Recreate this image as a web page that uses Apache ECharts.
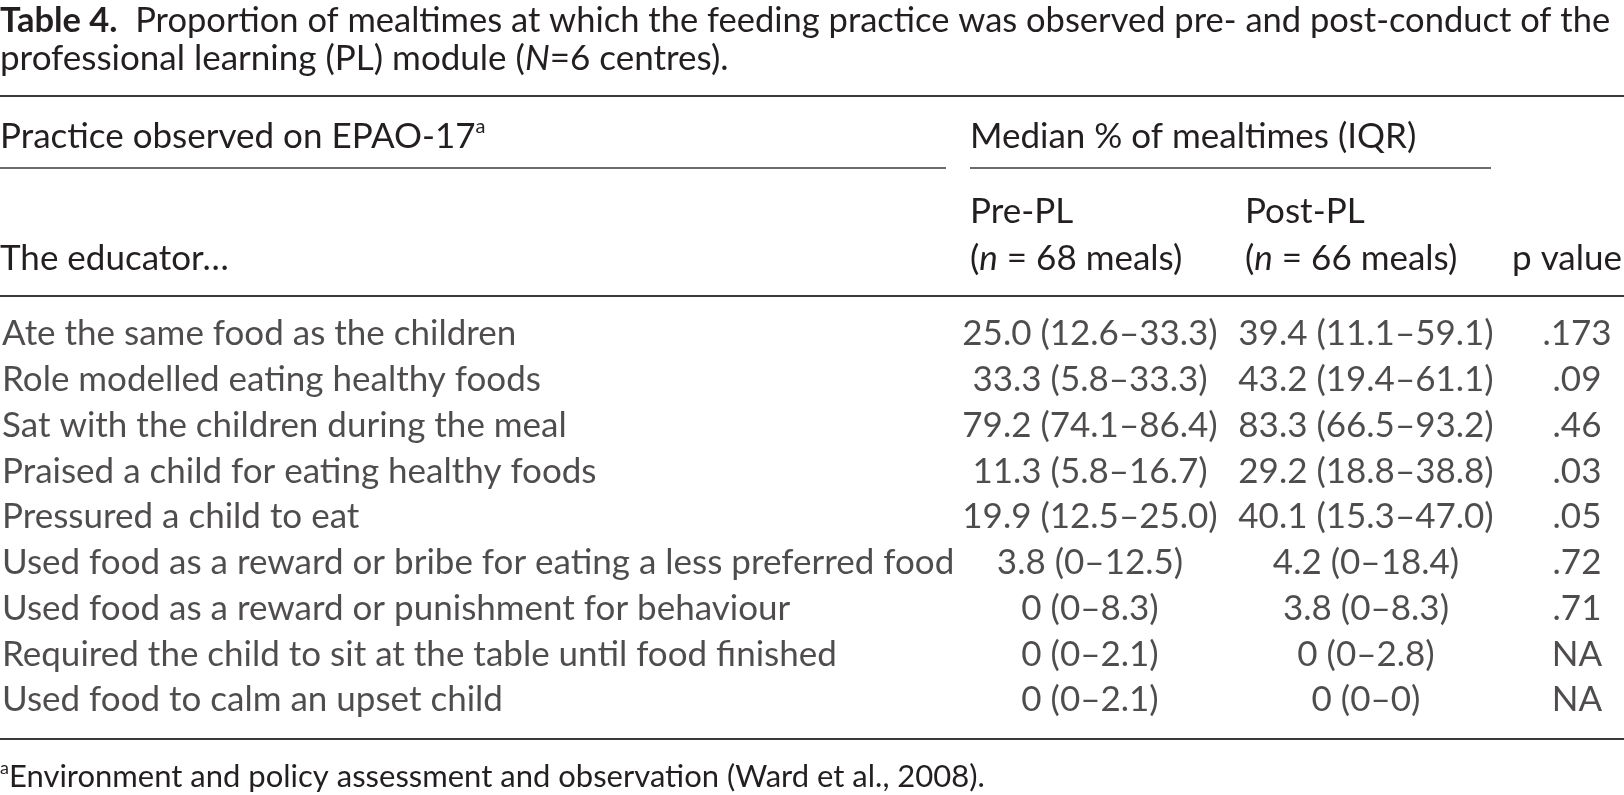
<!DOCTYPE html>
<html>
<head>
<meta charset="utf-8">
<script src="https://cdn.jsdelivr.net/npm/echarts@6/dist/echarts.min.js"></script>
<style>
  html, body { margin: 0; padding: 0; background: #fff; }
  #table4 { width: 1624px; height: 795px; }
</style>
</head>
<body>
<div id="table4"></div>
<script>
// 表格数据
var practices = [
    'Ate the same food as the children',
    'Role modelled eating healthy foods',
    'Sat with the children during the meal',
    'Praised a child for eating healthy foods',
    'Pressured a child to eat',
    'Used food as a reward or bribe for eating a less preferred food',
    'Used food as a reward or punishment for behaviour',
    'Required the child to sit at the table until food finished',
    'Used food to calm an upset child'
];
var preMedian = [25.0, 33.3, 79.2, 11.3, 19.9, 3.8, 0, 0, 0];
var preIqrLow = [12.6, 5.8, 74.1, 5.8, 12.5, 0, 0, 0, 0];
var preIqrHigh = [33.3, 33.3, 86.4, 16.7, 25.0, 12.5, 8.3, 2.1, 2.1];
var postMedian = [39.4, 43.2, 83.3, 29.2, 40.1, 4.2, 3.8, 0, 0];
var postIqrLow = [11.1, 19.4, 66.5, 18.8, 15.3, 0, 0, 0, 0];
var postIqrHigh = [59.1, 61.1, 93.2, 38.8, 47.0, 18.4, 8.3, 2.8, 0];
var pValues = ['.173', '.09', '.46', '.03', '.05', '.72', '.71', 'NA', 'NA'];

// 版式
var FONT = 'Lato';
var FS = 35;
var NOTE_FS = 31;
var SUP = 20;
var INK = '#231f20';
var RULE = '#3a3a3a';
var colX = { practice: 2, pre: 1090, post: 1366, p: 1577 };

function fmt(v) {
    return v === 0 ? '0' : v.toFixed(1);
}
function cell(m, lo, hi) {
    return fmt(m) + ' (' + fmt(lo) + '\u2013' + fmt(hi) + ')';
}

function columnSeries(name, x, texts, align) {
    return {
        name: name,
        type: 'scatter',
        symbolSize: 0,
        silent: true,
        data: texts.map(function (t, i) { return { value: [x, i], text: t }; }),
        label: {
            show: true,
            position: 'inside',
            align: align,
            verticalAlign: 'middle',
            fontFamily: FONT,
            fontSize: FS,
            color: INK,
            formatter: function (p) { return p.data.text; }
        }
    };
}

var preTexts = preMedian.map(function (m, i) { return cell(m, preIqrLow[i], preIqrHigh[i]); });
var postTexts = postMedian.map(function (m, i) { return cell(m, postIqrLow[i], postIqrHigh[i]); });

var italic = { i: { fontFamily: FONT, fontSize: FS, fontStyle: 'italic', fill: INK } };
var superscript = { sup: { fontFamily: FONT, fontSize: SUP, fill: INK, verticalAlign: 'top', lineHeight: 40 } };
var noteSup = { sup: { fontFamily: FONT, fontSize: 18, fill: INK, verticalAlign: 'top', lineHeight: 36 } };

function text(x, y, str, align, rich, size) {
    var st = {
        text: str,
        fontFamily: FONT,
        fontSize: size || FS,
        fill: INK,
        align: align || 'left',
        verticalAlign: 'middle'
    };
    if (rich) st.rich = rich;
    return { type: 'text', x: x, y: y, silent: true, style: st };
}
function rule(x1, x2, y, w) {
    return {
        type: 'line', silent: true,
        shape: { x1: x1, y1: y, x2: x2, y2: y },
        style: { stroke: RULE, lineWidth: w || 2 }
    };
}

var chart = echarts.init(document.getElementById('table4'));
chart.setOption({
    backgroundColor: '#fff',
    animation: false,
    grid: { left: 0, right: 0, top: 311, height: 412 },
    xAxis: { type: 'value', min: 0, max: 1624, show: false },
    yAxis: { type: 'category', data: practices, inverse: true, show: false },
    series: [
        columnSeries('practice', colX.practice, practices, 'left'),
        columnSeries('pre', colX.pre, preTexts, 'center'),
        columnSeries('post', colX.post, postTexts, 'center'),
        columnSeries('p', colX.p, pValues, 'center')
    ],
    graphic: [
        text(0, 21, '{b|Table 4.}  Proportion of mealtimes at which the feeding practice was observed pre- and post-conduct of the', 'left', {
            b: { fontFamily: FONT, fontSize: 34.5, fontWeight: 'bold', fill: INK }
        }, 34.5),
        text(0, 59, 'professional learning (PL) module ({i|N}=6 centres).', 'left', italic),
        rule(0, 1624, 96),
        text(0, 137, 'Practice observed on EPAO-17{sup|a}', 'left', superscript),
        text(970, 137, 'Median % of mealtimes (IQR)'),
        rule(0, 946, 168, 1.5),
        rule(970, 1491, 168, 1.5),
        text(970, 212, 'Pre-PL'),
        text(1245, 212, 'Post-PL'),
        text(0, 259, 'The educator\u2026'),
        text(970, 259, '({i|n} = 68 meals)', 'left', italic),
        text(1245, 259, '({i|n} = 66 meals)', 'left', italic),
        text(1622, 259, 'p value', 'right'),
        rule(0, 1624, 296),
        rule(0, 1624, 739),
        text(0, 777, '{sup|a}Environment and policy assessment and observation (Ward et al., 2008).', 'left', noteSup, NOTE_FS)
    ]
});
</script>
</body>
</html>
